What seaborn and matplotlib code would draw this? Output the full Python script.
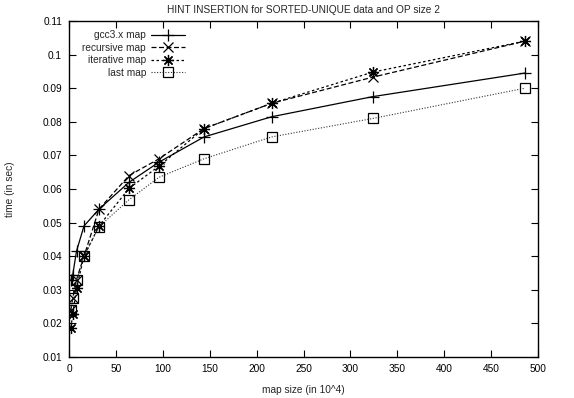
import matplotlib
matplotlib.use("Agg")
import matplotlib.pyplot as plt
import seaborn as sns
import pandas as pd

# ---- data ----
map_size = [2, 4, 8, 16, 32, 64, 96, 144, 216, 324, 486]
gcc_map = [0.0330, 0.0345, 0.0415, 0.0490, 0.0540, 0.0620, 0.0680, 0.0755, 0.0815, 0.0875, 0.0945]
recursive_map = [0.0240, 0.0275, 0.0330, 0.0400, 0.0540, 0.0640, 0.0690, 0.0780, 0.0855, 0.0933, 0.1040]
iterative_map = [0.0187, 0.0227, 0.0305, 0.0400, 0.0490, 0.0602, 0.0668, 0.0780, 0.0855, 0.0948, 0.1040]
last_map = [0.0240, 0.0275, 0.0328, 0.0400, 0.0488, 0.0568, 0.0635, 0.0690, 0.0755, 0.0810, 0.0900]

series_names = ["gcc3.x map", "recursive map", "iterative map", "last map"]
x_ticks = [0, 50, 100, 150, 200, 250, 300, 350, 400, 450, 500]
y_ticks = [0.01, 0.02, 0.03, 0.04, 0.05, 0.06, 0.07, 0.08, 0.09, 0.10, 0.11]
y_tick_labels = ["0.01", "0.02", "0.03", "0.04", "0.05", "0.06", "0.07", "0.08", "0.09", "0.1", "0.11"]

title = "HINT INSERTION for SORTED-UNIQUE data and OP size 2"
x_label = "map size (in 10^4)"
y_label = "time (in sec)"

sns.set_theme(style="white")
plt.rcParams["font.family"] = ["Liberation Sans", "DejaVu Sans"]
fs = 7.3

df = pd.DataFrame({
    "x": map_size * 4,
    "y": gcc_map + recursive_map + iterative_map + last_map,
    "series": sum([[n] * len(map_size) for n in series_names], []),
})

fig = plt.figure(figsize=(5.74, 3.98), dpi=100)
ax = fig.add_axes([69 / 574, 1 - 357 / 398, (538 - 69) / 574, (357 - 21) / 398])

styles = {
    "gcc3.x map": dict(marker="+", linestyle="-", color="black", markersize=8.5, lw=0.9),
    "recursive map": dict(marker="x", linestyle=(0, (4, 2)), color="black", markersize=6.5, lw=0.9),
    "iterative map": dict(marker=(8, 2, 0), linestyle=(0, (2, 2)), color="black", markersize=8, lw=0.9),
    "last map": dict(marker="s", linestyle=(0, (1, 1.5)), color="#333333", markersize=7, lw=0.8,
                     markerfacecolor="none"),
}

for name in series_names:
    sub = df[df["series"] == name]
    st = dict(styles[name])
    sns.lineplot(data=sub, x="x", y="y", ax=ax, label=name, markeredgecolor="black",
                 markeredgewidth=0.9, **st)

ax.set_xlim(0, 500)
ax.set_ylim(0.01, 0.11)
ax.set_xticks(x_ticks)
ax.set_xticklabels([str(t) for t in x_ticks], fontsize=fs)
ax.set_yticks(y_ticks)
ax.set_yticklabels(y_tick_labels, fontsize=fs)
ax.tick_params(direction="in", length=5, width=0.8, top=True, right=True,
               bottom=True, left=True, colors="black", pad=5)
for sp in ax.spines.values():
    sp.set_color("black")
    sp.set_linewidth(1.0)
ax.grid(False)

ax.set_title(title, fontsize=fs, pad=6)
ax.set_xlabel(x_label, fontsize=fs, labelpad=8)
ax.set_ylabel(y_label, fontsize=fs, labelpad=20)

leg = ax.legend(loc="upper left", bbox_to_anchor=(0.02, 0.985), frameon=False, markerfirst=False,
                fontsize=fs, handlelength=3.3, labelspacing=0.25, handletextpad=0.5,
                borderaxespad=0.0)

fig.savefig("out.png", dpi=100)
